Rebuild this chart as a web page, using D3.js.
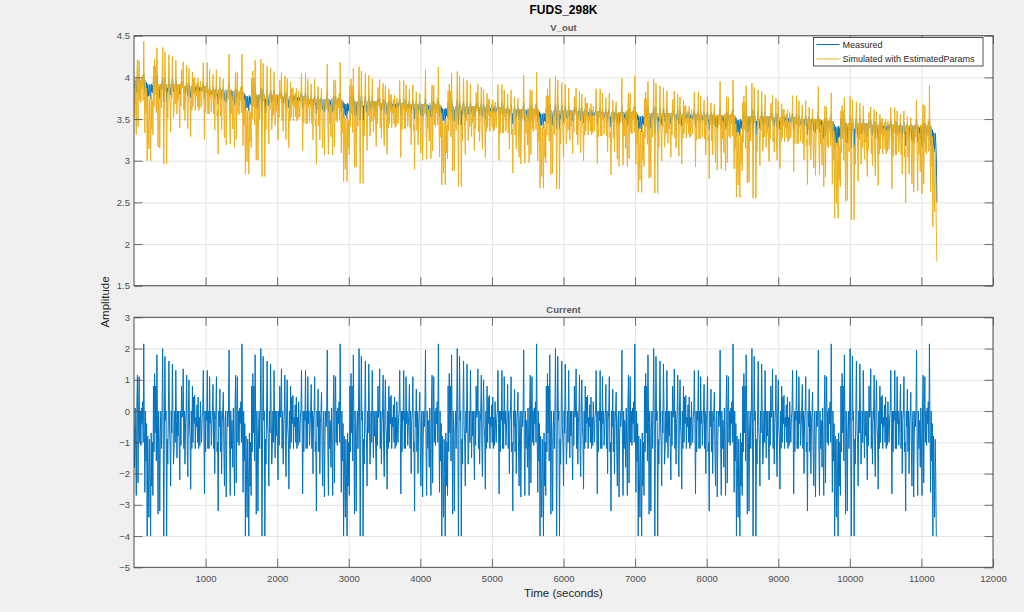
<!DOCTYPE html>
<html>
<head>
<meta charset="utf-8">
<script src="https://cdn.jsdelivr.net/npm/d3@7"></script>
<style>
  html, body { margin: 0; padding: 0; background: #f0f0f0; }
  svg { display: block; font-family: "Liberation Sans", Arial, Helvetica, sans-serif; }
</style>
</head>
<body>
<svg id="chart" width="1024" height="612"></svg>
<script>
// ---------------- DATA ----------------
const chartTitle = "FUDS_298K";
const topTitle = "V_out";
const bottomTitle = "Current";
const yLabel = "Amplitude";
const xLabel = "Time (seconds)";
const seriesNames = ["Measured", "Simulated with EstimatedParams"];

const xTicks = [1000, 2000, 3000, 4000, 5000, 6000, 7000, 8000, 9000, 10000, 11000, 12000];
const vTicks = [1.5, 2, 2.5, 3, 3.5, 4, 4.5];
const iTicks = [-5, -4, -3, -2, -1, 0, 1, 2, 3];

// start time (s) of each FUDS cycle and number of 8-s samples recorded in it
const cycleStarts = [0, 1372, 2744, 4116, 5488, 6860, 8232, 9604, 10976];
const cycleSamples = [172, 172, 172, 172, 172, 172, 172, 172, 30];
const stepSeconds = 8;

// current of one FUDS cycle (A), one value per 8 s
const cycleCurrent = [
  -0.5, -1.8, 0.1, -1.2, -2.7, 0.2, 1.15, -2.3, 0.0, 1.1,
  -1.0, 0.0, -1.1, 0.1, -0.4, 0.3, -1.0, 2.15, -0.5, -2.6,
  0.0, -1.6, -0.4, -4.0, -0.8, -2.2, -3.4, -0.9, -2.0, -4.0,
  -0.7, -2.4, -1.0, -2.7, 0.8, -1.3, 1.2, -0.7, 0.8, -1.6,
  1.8, -0.4, -3.3, 0.0, -1.0, -3.2, -0.6, 0.0, -1.2, 0.0,
  2.0, -0.5, -4.0, -0.8, 1.75, -0.3, 0.0, -4.0, -0.9, -1.7,
  0.0, 1.6, -0.5, -1.0, -2.4, 0.0, -0.7, 1.5, 0.0, -1.7,
  -1.2, 0.0, -1.0, 1.3, -0.3, -1.5, 0.0, -0.8, 0.0, -1.2,
  -2.2, 0.0, -1.1, 0.8, -0.2, 0.0, 1.35, -1.2, 0.0, -1.7,
  -0.4, 0.0, 1.15, -1.3, -2.1, 0.0, 1.0, -0.5, -0.9, -2.5,
  0.0, -1.2, 0.8, -1.0, 0.45, -0.4, 0.5, -1.2, -0.2, -0.5,
  0.2, -1.0, 0.45, -1.2, -0.2, -1.1, 0.3, -0.5, -1.0, -0.2,
  0.0, 1.3, -0.4, -2.65, 0.0, -1.3, 0.0, -0.3, 1.3, -1.2,
  0.0, -1.2, 1.1, -0.4, 0.0, -1.1, -0.5, 0.0, 0.85, -1.2,
  0.0, -2.0, -0.3, 0.0, 1.1, -1.3, -1.0, -3.2, 0.0, -0.5,
  0.7, -1.3, 0.0, -2.0, -0.4, 0.0, 0.6, -1.3, -2.4, -0.3,
  0.0, -2.75, -0.9, 0.0, -0.5, 0.0, 1.95, -1.2, -2.7, 0.0,
  -1.2, -0.3
];

// rest (zero-current) voltage of each cycle, per quarter of the cycle (V)
const restLevels = [
  [3.96, 3.92, 3.89, 3.85],
  [3.82, 3.79, 3.77, 3.74],
  [3.73, 3.71, 3.69, 3.68],
  [3.67, 3.65, 3.64, 3.62],
  [3.61, 3.60, 3.59, 3.58],
  [3.58, 3.57, 3.56, 3.55],
  [3.54, 3.53, 3.52, 3.50],
  [3.47, 3.45, 3.43, 3.42],
  [3.41, 3.41, 3.41, 3.41]
];
// voltage change per ampere read for each cycle (V/A), discharge and charge
const measGainDis = [0.055, 0.055, 0.055, 0.055, 0.055, 0.058, 0.06, 0.075, 0.09];
const measGainChg = [0.04, 0.04, 0.04, 0.04, 0.04, 0.04, 0.04, 0.04, 0.04];
const simGainDis  = [0.24, 0.245, 0.245, 0.24, 0.235, 0.24, 0.245, 0.29, 0.30];
const simGainChg  = [0.22, 0.215, 0.21, 0.21, 0.21, 0.205, 0.2, 0.16, 0.23];

// final samples at the cut-off
const tailTime = [11216];
const tailCurrent = [-4.0];
const tailMeasured = [2.5];
const tailSimulated = [1.79];

// ---------------- BUILD SERIES ----------------
const times = [], current = [], measured = [], simulated = [];
cycleStarts.forEach((t0, k) => {
  for (let s = 0; s < cycleSamples[k]; s++) {
    const I = cycleCurrent[s];
    const rest = restLevels[k][Math.min(3, Math.floor(s / 43))];
    times.push(t0 + s * stepSeconds);
    current.push(I);
    measured.push(rest + I * (I < 0 ? measGainDis[k] : measGainChg[k]));
    simulated.push(rest + I * (I < 0 ? simGainDis[k] : simGainChg[k]));
  }
});
tailTime.forEach((t, i) => {
  times.push(t); current.push(tailCurrent[i]);
  measured.push(tailMeasured[i]); simulated.push(tailSimulated[i]);
});

// ---------------- DRAW ----------------
const svg = d3.select("#chart");
const left = 134, right = 993;
const topPanel = { y0: 35.7, y1: 285.7 };
const botPanel = { y0: 317.3, y1: 567.3 };
const colMeas = "#0072BD", colSim = "#EDB120";
const axisCol = "#4d4d4d", labelCol = "#4d4d4d", gridCol = "#e3e3e3";
const tickLen = 8.5;
const lw = 1.0;

const x = d3.scaleLinear().domain([0, 12000]).range([left, right]);
const yV = d3.scaleLinear().domain([1.5, 4.5]).range([topPanel.y1, topPanel.y0]);
const yI = d3.scaleLinear().domain([-5, 3]).range([botPanel.y1, botPanel.y0]);

svg.append("rect").attr("width", 1024).attr("height", 612).attr("fill", "#f0f0f0");

function panel(id, p, y, yTicksArr, draw) {
  const g = svg.append("g");
  g.append("rect").attr("x", left).attr("y", p.y0).attr("width", right - left)
    .attr("height", p.y1 - p.y0).attr("fill", "#fff");
  // grid
  const gx = g.append("g").attr("transform", `translate(0,${p.y1})`)
    .call(d3.axisBottom(x).tickValues(xTicks).tickSize(-(p.y1 - p.y0)).tickFormat(""));
  const gy = g.append("g").attr("transform", `translate(${left},0)`)
    .call(d3.axisLeft(y).tickValues(yTicksArr).tickSize(-(right - left)).tickFormat(""));
  [gx, gy].forEach(a => {
    a.select(".domain").remove();
    a.selectAll("line").attr("stroke", gridCol).attr("stroke-width", 1);
  });
  // data
  svg.append("clipPath").attr("id", id).append("rect")
    .attr("x", left).attr("y", p.y0).attr("width", right - left).attr("height", p.y1 - p.y0);
  const dg = g.append("g").attr("clip-path", `url(#${id})`);
  draw(dg);
  // axes with inward ticks
  const ab = g.append("g").attr("transform", `translate(0,${p.y1})`)
    .call(d3.axisBottom(x).tickValues(xTicks).tickSizeInner(-tickLen).tickSizeOuter(0)
      .tickPadding(id === "clipBot" ? 8 : 0).tickFormat(id === "clipBot" ? d3.format("d") : ""));
  const at = g.append("g").attr("transform", `translate(0,${p.y0})`)
    .call(d3.axisTop(x).tickValues(xTicks).tickSizeInner(-tickLen).tickSizeOuter(0).tickFormat(""));
  const al = g.append("g").attr("transform", `translate(${left},0)`)
    .call(d3.axisLeft(y).tickValues(yTicksArr).tickSizeInner(-tickLen).tickSizeOuter(0)
      .tickPadding(4).tickFormat(d3.format("")));
  const ar = g.append("g").attr("transform", `translate(${right},0)`)
    .call(d3.axisRight(y).tickValues(yTicksArr).tickSizeInner(-tickLen).tickSizeOuter(0).tickFormat(""));
  [ab, at, al, ar].forEach(a => {
    a.select(".domain").remove();
    a.selectAll("line").attr("stroke", axisCol).attr("stroke-width", 0.8);
    a.selectAll("text").attr("fill", labelCol).attr("font-size", "9.5px")
      .attr("font-family", "'Liberation Sans', Arial, sans-serif");
  });
  g.append("rect").attr("x", left).attr("y", p.y0).attr("width", right - left)
    .attr("height", p.y1 - p.y0).attr("fill", "none").attr("stroke", axisCol).attr("stroke-width", 1);
  return g;
}

const idx = d3.range(times.length);

panel("clipTop", topPanel, yV, vTicks, dg => {
  const lineM = d3.line().x(i => x(times[i])).y(i => yV(measured[i]));
  const lineS = d3.line().x(i => x(times[i])).y(i => yV(simulated[i]));
  dg.append("path").attr("d", lineM(idx)).attr("fill", "none")
    .attr("stroke", colMeas).attr("stroke-width", lw).attr("stroke-linejoin", "round");
  dg.append("path").attr("d", lineS(idx)).attr("fill", "none")
    .attr("stroke", colSim).attr("stroke-width", lw).attr("stroke-linejoin", "round");
});

panel("clipBot", botPanel, yI, iTicks, dg => {
  const lineI = d3.line().x(i => x(times[i])).y(i => yI(current[i]));
  dg.append("path").attr("d", lineI(idx)).attr("fill", "none")
    .attr("stroke", colMeas).attr("stroke-width", lw).attr("stroke-linejoin", "round");
});

const cx = (left + right) / 2;
svg.append("text").attr("x", cx).attr("y", 14).attr("text-anchor", "middle")
  .attr("font-size", "12px").attr("font-weight", "bold").attr("fill", "#000").text(chartTitle);
svg.append("text").attr("x", cx).attr("y", 30.5).attr("text-anchor", "middle")
  .attr("font-size", "9.5px").attr("font-weight", "bold").attr("fill", "#595959").text(topTitle);
svg.append("text").attr("x", cx).attr("y", 312.5).attr("text-anchor", "middle")
  .attr("font-size", "9.5px").attr("font-weight", "bold").attr("fill", "#595959").text(bottomTitle);
svg.append("text").attr("x", cx).attr("y", 597).attr("text-anchor", "middle")
  .attr("font-size", "11.5px").attr("fill", "#262626").text(xLabel);
svg.append("text").attr("transform", "translate(109,302) rotate(-90)").attr("text-anchor", "middle")
  .attr("font-size", "11.5px").attr("fill", "#262626").text(yLabel);

// legend
const lg = svg.append("g");
lg.append("rect").attr("x", 813.5).attr("y", 37.5).attr("width", 169.5).attr("height", 28.5)
  .attr("fill", "#fff").attr("stroke", "#262626").attr("stroke-width", 0.8);
[colMeas, colSim].forEach((c, i) => {
  const yy = 44.5 + i * 14.5;
  lg.append("line").attr("x1", 816.5).attr("x2", 839.5).attr("y1", yy).attr("y2", yy)
    .attr("stroke", c).attr("stroke-width", 1);
  lg.append("text").attr("x", 842.5).attr("y", yy + 3.3).attr("font-size", "9px")
    .attr("fill", "#262626").text(seriesNames[i]);
});
</script>
</body>
</html>
